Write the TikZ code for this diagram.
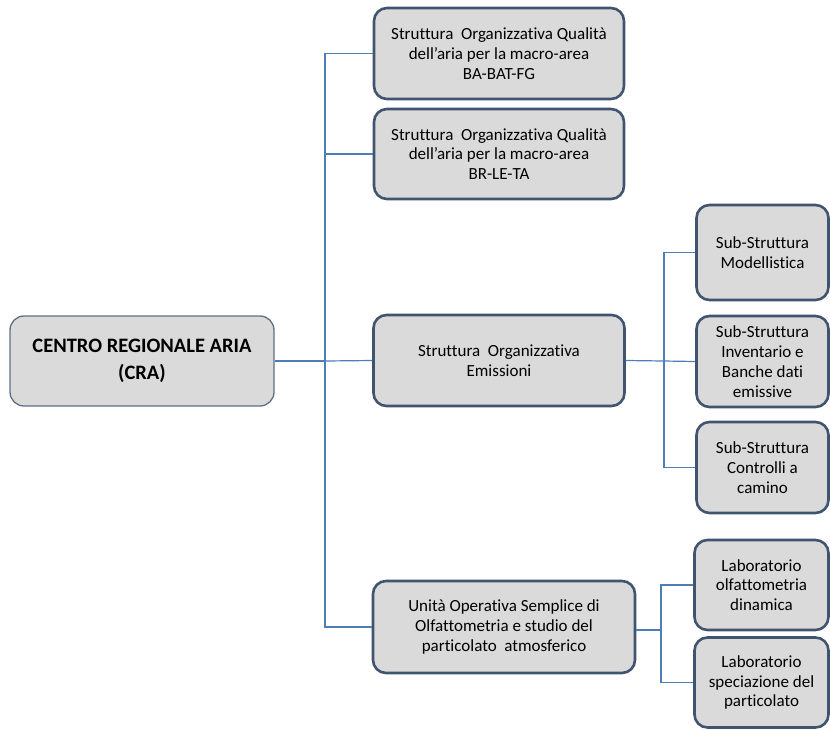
\documentclass[tikz,border=0pt]{standalone}
\usepackage{fontspec}
\setmainfont{Carlito}[Ligatures=NoCommon]
\definecolor{boxfill}{HTML}{DADADA}
\definecolor{boxline}{HTML}{41546F}
\definecolor{craline}{HTML}{5E6F88}
\definecolor{connline}{HTML}{4F7DB8}
\tikzset{
  orgbox/.style={draw=boxline, line width=2.6pt, fill=boxfill, rounded corners=13pt,
    align=center, inner sep=0pt, font=\fontsize{17}{19.8}\selectfont},
  crabox/.style={draw=craline, line width=1.3pt, fill=boxfill, rounded corners=14pt,
    align=center, inner sep=0pt, font=\fontsize{20.5}{27}\selectfont\bfseries,
    minimum width=264pt, minimum height=90pt},
  conn/.style={draw=connline, line width=1.2pt}
}
\begin{document}
\begin{tikzpicture}[x=1pt,y=-1pt]
\useasboundingbox (0,0) rectangle (830,729);
\coordinate (j1) at (325,361);
\coordinate (j2) at (664,361);
\coordinate (j3) at (661,630);
% nodes
\node[crabox] (cra) at (142,361) {CENTRO REGIONALE ARIA\\(CRA)};
\node[orgbox, minimum width=250pt, minimum height=91pt] (b1) at (499,53.5) {Struttura\ \ Organizzativa Qualità\\dell’aria per la macro-area\\BA-BAT-FG};
\node[orgbox, minimum width=250pt, minimum height=90pt] (b2) at (499,154) {Struttura\ \ Organizzativa Qualità\\dell’aria per la macro-area\\BR-LE-TA};
\node[orgbox, minimum width=251pt, minimum height=91pt] (b3) at (499,360.5) {Struttura\ \ Organizzativa\\Emissioni};
\node[orgbox, minimum width=262pt, minimum height=92pt] (b4) at (504,627) {Unità Operativa Semplice di\\Olfattometria e studio del\\particolato\ \ atmosferico};
\node[orgbox, minimum width=132pt, minimum height=95pt] (s1) at (762.5,252.5) {Sub-Struttura\\Modellistica};
\node[orgbox, minimum width=132pt, minimum height=91pt] (s2) at (762.5,361.5) {Sub-Struttura\\Inventario e\\Banche dati\\emissive};
\node[orgbox, minimum width=132pt, minimum height=91pt] (s3) at (762.5,467.5) {Sub-Struttura\\Controlli a\\camino};
\node[orgbox, minimum width=134pt, minimum height=90pt] (l1) at (761.5,585) {Laboratorio\\olfattometria\\dinamica};
\node[orgbox, minimum width=134pt, minimum height=90pt] (l2) at (761.5,682.5) {Laboratorio\\speciazione del\\particolato};
% connectors
\draw[conn] (cra.east) -- (j1);
\draw[conn] (b1.west) -| (j1) |- (b4.west);
\draw[conn] (j1 |- b2.west) -- (b2.west);
\draw[conn] (j1) -- (b3.west);
\draw[conn] (b3.east) -- (j2);
\draw[conn] (s1.west) -| (j2) |- (s3.west);
\draw[conn] (j2) -- (s2.west);
\draw[conn] (b4.east |- j3) -- (j3);
\draw[conn] (l1.west) -| (j3) |- (l2.west);
\end{tikzpicture}
\end{document}
